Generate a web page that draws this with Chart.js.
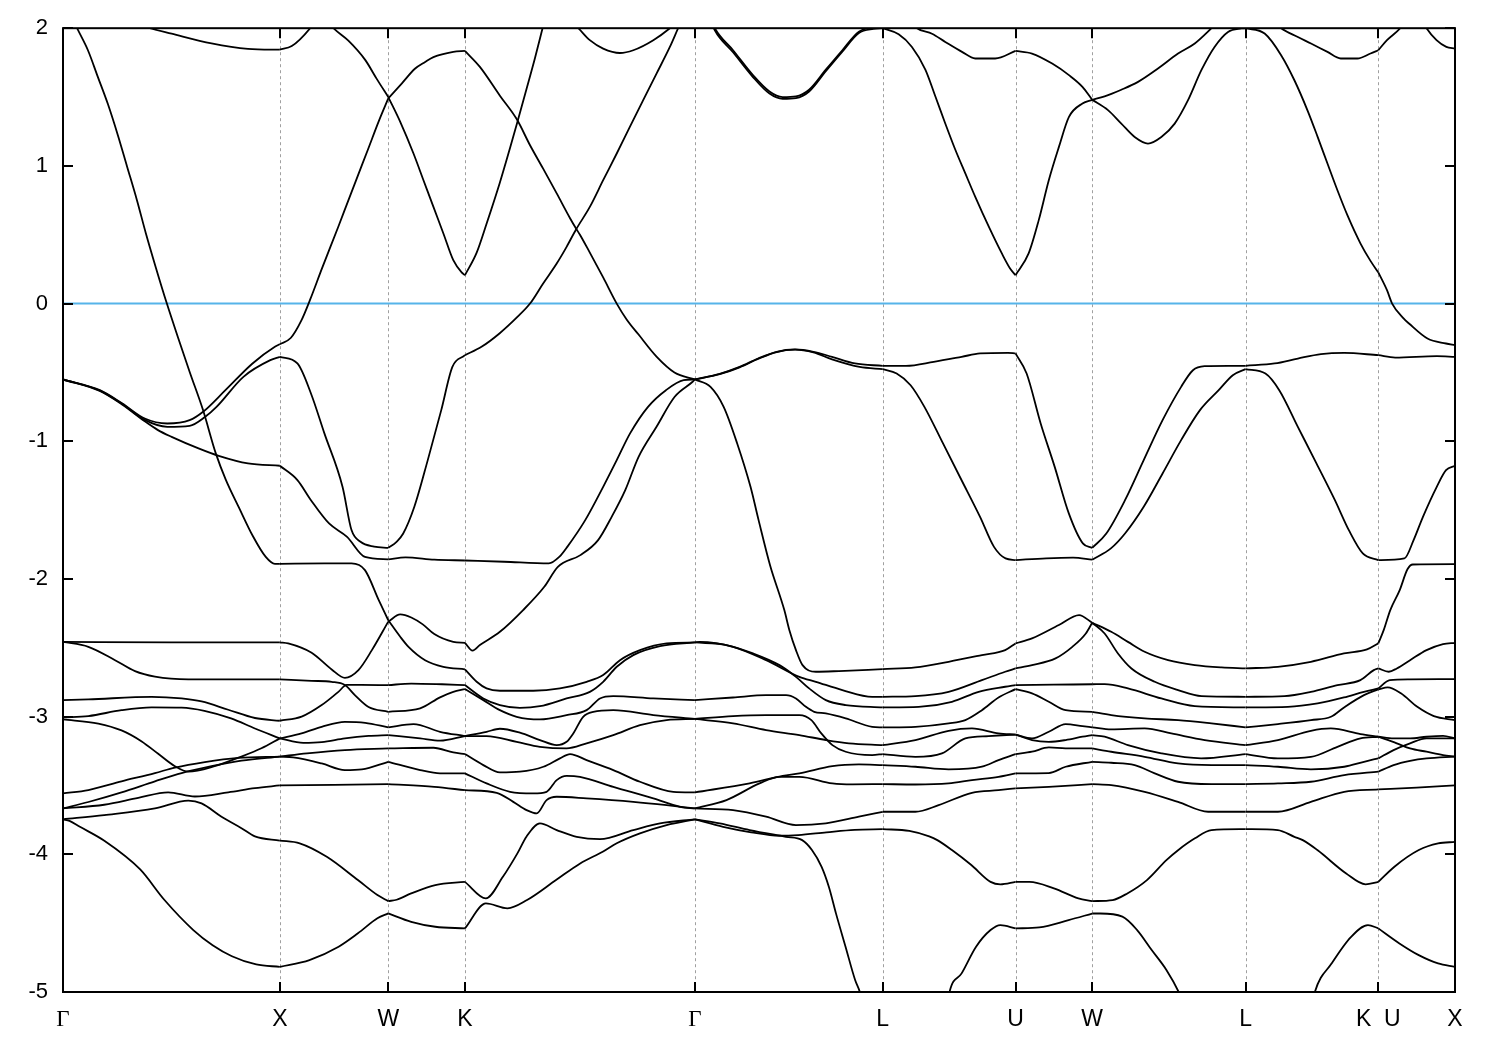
<!DOCTYPE html>
<html><head><meta charset="utf-8">
<script src="https://cdn.jsdelivr.net/npm/chart.js@4"></script>
<style>html,body{margin:0;padding:0;background:#fff;}canvas{display:block;}</style>
</head><body>
<canvas id="c" width="1500" height="1050"></canvas>
<script>
// ---- k-path (path coordinate, units of 2pi/a) and labels ----
const kLabels = ['Γ','X','W','K','Γ','L','U','W','L','K  U','X'];
const kPos = [0, 1, 1.5, 1.8536, 2.9142, 3.7802, 4.3926, 4.7462, 5.4533, 6.0657, 6.4193];
const yTicks = [-5,-4,-3,-2,-1,0,1,2];
const fermiLevel = 0;

// ---- bands per path segment: each curve is a list of [fraction along segment, energy eV] ----
const seg_G_X = [
 [[0.03,2.12],[0.065,2.0],[0.115,1.84],[0.161,1.645],[0.207,1.449],[0.253,1.223],[0.295,0.998],[0.341,0.751],[0.382,0.511],[0.429,0.257],[0.479,0.0],[0.53,-0.244],[0.585,-0.5],[0.645,-0.77],[0.705,-1.09],[0.751,-1.28],[0.811,-1.48],[0.876,-1.69],[0.935,-1.84],[0.977,-1.89],[1,-1.89]],
 [[0.35,2.03],[0.401,2.0],[0.501,1.96],[0.685,1.89],[0.853,1.85],[0.962,1.845],[1,1.845]],
 [[0,-0.551],[0.17,-0.629],[0.274,-0.726],[0.377,-0.835],[0.481,-0.871],[0.584,-0.847],[0.646,-0.786],[0.749,-0.629],[0.874,-0.435],[0.977,-0.314],[1,-0.295]],
 [[0,-0.551],[0.17,-0.632],[0.274,-0.73],[0.377,-0.845],[0.481,-0.895],[0.584,-0.888],[0.656,-0.822],[0.708,-0.75],[0.832,-0.532],[0.956,-0.411],[1,-0.387]],
 [[0,-0.551],[0.17,-0.635],[0.274,-0.735],[0.377,-0.855],[0.438,-0.919],[0.501,-0.968],[0.625,-1.052],[0.718,-1.106],[0.853,-1.161],[1,-1.178]],
 [[0,-2.457],[0.5,-2.46],[1,-2.46]],
 [[0,-2.457],[0.117,-2.493],[0.24,-2.59],[0.332,-2.67],[0.424,-2.71],[0.578,-2.73],[1,-2.73]],
 [[0,-2.88],[0.117,-2.875],[0.409,-2.856],[0.547,-2.868],[0.639,-2.89],[0.762,-2.95],[0.885,-3.01],[1,-3.03]],
 [[0,-3.006],[0.117,-2.996],[0.27,-2.953],[0.409,-2.933],[0.547,-2.935],[0.652,-2.958],[0.775,-3.013],[0.885,-3.086],[1,-3.158]],
 [[0,-3.02],[0.163,-3.05],[0.27,-3.10],[0.363,-3.18],[0.439,-3.27],[0.516,-3.36],[0.578,-3.40],[0.699,-3.36],[0.823,-3.29],[0.915,-3.23],[1,-3.158]],
 [[0,-3.557],[0.117,-3.533],[0.27,-3.47],[0.424,-3.41],[0.516,-3.37],[0.654,-3.33],[0.808,-3.30],[1,-3.29]],
 [[0,-3.667],[0.117,-3.62],[0.27,-3.55],[0.424,-3.47],[0.547,-3.41],[0.685,-3.36],[0.823,-3.32],[1,-3.29]],
 [[0,-3.667],[0.19,-3.64],[0.347,-3.59],[0.485,-3.55],[0.608,-3.58],[0.762,-3.55],[0.885,-3.52],[1,-3.50]],
 [[0,-3.746],[0.19,-3.715],[0.424,-3.667],[0.578,-3.61],[0.639,-3.63],[0.731,-3.727],[0.823,-3.81],[0.885,-3.87],[1,-3.90]],
 [[0,-3.746],[0.03,-3.757],[0.078,-3.80],[0.189,-3.90],[0.356,-4.11],[0.467,-4.33],[0.601,-4.55],[0.69,-4.66],[0.779,-4.74],[0.891,-4.80],[1,-4.817]]
];
const seg_X_W = [
 [[0,1.845],[0.11,1.87],[0.28,2.0],[0.35,2.08]],
 [[0.45,2.04],[0.494,2.0],[0.632,1.91],[0.787,1.77],[0.895,1.63],[1,1.50]],
 [[0,-0.295],[0.1,-0.25],[0.2,-0.12],[0.28,0.03],[0.386,0.25],[0.54,0.56],[0.632,0.75],[0.725,0.94],[0.818,1.13],[0.91,1.32],[1,1.49]],
 [[0,-0.387],[0.162,-0.435],[0.287,-0.653],[0.411,-0.943],[0.578,-1.33],[0.661,-1.645],[0.744,-1.73],[0.87,-1.765],[1,-1.774]],
 [[0,-1.178],[0.162,-1.282],[0.287,-1.428],[0.454,-1.597],[0.62,-1.694],[0.785,-1.84],[1,-1.858]],
 [[0,-1.89],[0.411,-1.887],[0.661,-1.887],[0.785,-1.936],[0.91,-2.15],[1,-2.30]],
 [[0,-2.46],[0.077,-2.468],[0.293,-2.536],[0.478,-2.657],[0.6,-2.718],[0.725,-2.662],[0.849,-2.517],[1,-2.31]],
 [[0,-2.73],[0.293,-2.74],[0.478,-2.747],[0.6,-2.77],[0.694,-2.845],[0.818,-2.93],[1,-2.965]],
 [[0,-3.03],[0.201,-3.0],[0.386,-2.916],[0.54,-2.82],[0.617,-2.77],[0.75,-2.77],[1,-2.771]],
 [[0,-3.158],[0.2,-3.122],[0.386,-3.074],[0.6,-3.038],[0.787,-3.045],[1,-3.078]],
 [[0,-3.158],[0.216,-3.19],[0.386,-3.185],[0.6,-3.158],[0.818,-3.14],[1,-3.134]],
 [[0,-3.29],[0.25,-3.267],[0.6,-3.243],[1,-3.231]],
 [[0,-3.29],[0.123,-3.296],[0.386,-3.34],[0.6,-3.388],[0.756,-3.383],[1,-3.328]],
 [[0,-3.50],[0.5,-3.495],[1,-3.49]],
 [[0,-3.90],[0.183,-3.92],[0.433,-4.018],[0.72,-4.187],[0.9,-4.296],[1,-4.34]],
 [[0,-4.817],[0.273,-4.768],[0.542,-4.671],[0.72,-4.574],[0.9,-4.465],[1,-4.429]]
];
const seg_W_K = [
 [[0,1.50],[0.156,1.32],[0.329,1.09],[0.459,0.896],[0.589,0.702],[0.719,0.509],[0.848,0.315],[0.957,0.226],[1,0.206]],
 [[0,1.49],[0.178,1.60],[0.351,1.707],[0.481,1.755],[0.589,1.79],[0.848,1.828],[1,1.835]],
 [[0,-1.774],[0.108,-1.73],[0.195,-1.67],[0.34,-1.476],[0.515,-1.137],[0.691,-0.774],[0.836,-0.46],[1,-0.375]],
 [[0,-1.858],[0.225,-1.844],[0.6,-1.86],[1,-1.866]],
 [[0,-2.31],[0.156,-2.258],[0.3,-2.28],[0.45,-2.33],[0.6,-2.40],[0.848,-2.457],[1,-2.464]],
 [[0,-2.30],[0.156,-2.42],[0.264,-2.493],[0.48,-2.59],[0.718,-2.638],[1,-2.657]],
 [[0,-2.771],[0.3,-2.76],[0.7,-2.765],[1,-2.771]],
 [[0,-2.965],[0.416,-2.94],[0.675,-2.86],[0.848,-2.82],[1,-2.80]],
 [[0,-3.078],[0.329,-3.054],[0.675,-3.11],[1,-3.141]],
 [[0,-3.134],[0.416,-3.158],[0.675,-3.175],[1,-3.141]],
 [[0,-3.231],[0.589,-3.226],[0.848,-3.26],[1,-3.272]],
 [[0,-3.328],[0.416,-3.388],[0.675,-3.412],[1,-3.412]],
 [[0,-3.49],[0.6,-3.51],[1,-3.534]],
 [[0,-4.34],[0.11,-4.33],[0.299,-4.284],[0.613,-4.223],[1,-4.20]],
 [[0,-4.429],[0.299,-4.49],[0.613,-4.526],[1,-4.538]]
];
const seg_K_G = [
 [[0,0.206],[0.051,0.37],[0.094,0.58],[0.152,0.88],[0.196,1.13],[0.225,1.30],[0.268,1.56],[0.304,1.78],[0.333,1.97],[0.36,2.15]],
 [[0,1.835],[0.065,1.719],[0.152,1.51],[0.225,1.34],[0.283,1.15],[0.34,0.98],[0.399,0.80],[0.457,0.62],[0.483,0.545],[0.5,0.50],[0.543,0.37],[0.601,0.19],[0.66,0.0],[0.703,-0.115],[0.755,-0.225],[0.833,-0.385],[0.911,-0.5],[1,-0.551]],
 [[0,-0.375],[0.072,-0.314],[0.15,-0.217],[0.228,-0.097],[0.283,0.0],[0.34,0.146],[0.399,0.291],[0.442,0.412],[0.483,0.538],[0.543,0.702],[0.601,0.896],[0.66,1.09],[0.717,1.283],[0.775,1.477],[0.833,1.67],[0.891,1.864],[0.927,2.0],[0.96,2.12]],
 [[0.46,2.05],[0.493,2.0],[0.543,1.913],[0.601,1.852],[0.674,1.82],[0.732,1.84],[0.819,1.913],[0.891,2.0],[0.93,2.06]],
 [[0,-1.866],[0.17,-1.875],[0.365,-1.887],[0.41,-1.84],[0.445,-1.767],[0.523,-1.573],[0.601,-1.331],[0.66,-1.137],[0.718,-0.943],[0.796,-0.75],[0.874,-0.629],[0.951,-0.556],[1,-0.551]],
 [[0,-2.464],[0.033,-2.52],[0.065,-2.48],[0.152,-2.384],[0.253,-2.226],[0.345,-2.057],[0.404,-1.912],[0.502,-1.827],[0.579,-1.718],[0.638,-1.549],[0.697,-1.355],[0.755,-1.113],[0.833,-0.895],[0.912,-0.677],[0.99,-0.568],[1,-0.551]],
 [[0,-2.657],[0.051,-2.747],[0.094,-2.795],[0.152,-2.812],[0.297,-2.812],[0.413,-2.795],[0.529,-2.747],[0.601,-2.698],[0.674,-2.59],[0.761,-2.517],[0.877,-2.468],[1,-2.461]],
 [[0,-2.771],[0.08,-2.868],[0.152,-2.916],[0.239,-2.936],[0.326,-2.924],[0.442,-2.868],[0.543,-2.82],[0.601,-2.747],[0.66,-2.638],[0.732,-2.553],[0.848,-2.488],[1,-2.461]],
 [[0,-2.80],[0.08,-2.88],[0.152,-2.953],[0.225,-3.001],[0.326,-3.02],[0.442,-2.989],[0.529,-2.953],[0.587,-2.868],[0.645,-2.851],[0.819,-2.868],[1,-2.88]],
 [[0,-3.141],[0.094,-3.11],[0.152,-3.088],[0.239,-3.117],[0.326,-3.17],[0.399,-3.207],[0.442,-3.183],[0.471,-3.122],[0.514,-3.001],[0.558,-2.965],[0.645,-2.953],[0.819,-2.989],[1,-3.017]],
 [[0,-3.141],[0.094,-3.141],[0.225,-3.183],[0.326,-3.219],[0.442,-3.231],[0.529,-3.194],[0.645,-3.134],[0.761,-3.062],[0.877,-3.025],[1,-3.017]],
 [[0,-3.272],[0.08,-3.352],[0.152,-3.405],[0.239,-3.40],[0.341,-3.364],[0.413,-3.303],[0.457,-3.272],[0.529,-3.316],[0.645,-3.388],[0.761,-3.473],[0.906,-3.546],[1,-3.55]],
 [[0,-3.412],[0.094,-3.485],[0.196,-3.546],[0.297,-3.558],[0.355,-3.546],[0.399,-3.461],[0.442,-3.43],[0.5,-3.437],[0.645,-3.51],[0.819,-3.594],[0.935,-3.655],[1,-3.667]],
 [[0,-3.534],[0.138,-3.553],[0.21,-3.619],[0.268,-3.679],[0.312,-3.703],[0.355,-3.606],[0.399,-3.582],[0.529,-3.594],[0.732,-3.619],[0.877,-3.643],[1,-3.667]],
 [[0,-4.20],[0.091,-4.32],[0.165,-4.163],[0.228,-3.993],[0.268,-3.87],[0.326,-3.775],[0.399,-3.824],[0.486,-3.873],[0.587,-3.89],[0.732,-3.824],[0.848,-3.775],[1,-3.746]],
 [[0,-4.538],[0.091,-4.356],[0.185,-4.392],[0.27,-4.332],[0.396,-4.187],[0.501,-4.066],[0.601,-3.98],[0.66,-3.92],[0.761,-3.848],[0.877,-3.788],[1,-3.746]]
];
const seg_G_L = [
 [[0,2.35],[0.106,2.0],[0.203,1.84],[0.309,1.659],[0.397,1.54],[0.467,1.50],[0.538,1.505],[0.608,1.553],[0.697,1.699],[0.785,1.84],[0.873,1.975],[0.95,2.0],[1,2.0]],
 [[0,2.35],[0.106,1.985],[0.203,1.825],[0.309,1.645],[0.397,1.525],[0.467,1.487],[0.538,1.492],[0.608,1.54],[0.697,1.688],[0.785,1.83],[0.873,1.965],[0.95,1.995],[1,2.0]],
 [[0,-0.551],[0.132,-0.51],[0.238,-0.46],[0.336,-0.399],[0.435,-0.35],[0.533,-0.333],[0.631,-0.35],[0.73,-0.387],[0.852,-0.435],[1,-0.452]],
 [[0,-0.551],[0.132,-0.513],[0.238,-0.463],[0.336,-0.402],[0.435,-0.352],[0.533,-0.335],[0.631,-0.355],[0.73,-0.405],[0.877,-0.46],[1,-0.476]],
 [[0,-0.551],[0.083,-0.605],[0.153,-0.75],[0.225,-1.016],[0.296,-1.331],[0.339,-1.573],[0.40,-1.90],[0.476,-2.226],[0.503,-2.372],[0.538,-2.517],[0.573,-2.626],[0.644,-2.674],[0.767,-2.669],[1,-2.655]],
 [[0,-2.461],[0.026,-2.457],[0.203,-2.493],[0.379,-2.59],[0.556,-2.711],[0.644,-2.747],[0.785,-2.807],[0.944,-2.856],[1,-2.856]],
 [[0,-2.461],[0.168,-2.48],[0.309,-2.541],[0.45,-2.626],[0.538,-2.711],[0.608,-2.795],[0.697,-2.88],[0.803,-2.916],[1,-2.933]],
 [[0,-2.88],[0.203,-2.861],[0.379,-2.844],[0.485,-2.844],[0.538,-2.868],[0.591,-2.929],[0.635,-2.965],[0.697,-2.977],[0.803,-3.013],[0.944,-3.074],[1,-3.078]],
 [[0,-3.017],[0.203,-2.996],[0.379,-2.989],[0.556,-2.989],[0.62,-3.025],[0.673,-3.122],[0.732,-3.207],[0.803,-3.255],[0.944,-3.279],[1,-3.272]],
 [[0,-3.017],[0.203,-3.049],[0.379,-3.098],[0.556,-3.134],[0.697,-3.17],[0.82,-3.194],[1,-3.207]],
 [[0,-3.55],[0.291,-3.485],[0.467,-3.43],[0.556,-3.412],[0.732,-3.359],[0.873,-3.347],[1,-3.352]],
 [[0,-3.667],[0.168,-3.606],[0.344,-3.485],[0.45,-3.437],[0.556,-3.437],[0.732,-3.485],[0.838,-3.492],[1,-3.49]],
 [[0,-3.667],[0.203,-3.679],[0.379,-3.727],[0.538,-3.788],[0.697,-3.775],[0.873,-3.727],[1,-3.691]],
 [[0,-3.746],[0.15,-3.80],[0.3,-3.84],[0.45,-3.865],[0.55,-3.86],[0.7,-3.84],[0.85,-3.822],[1,-3.817]],
 [[0,-3.746],[0.132,-3.775],[0.291,-3.824],[0.485,-3.873],[0.571,-3.897],[0.623,-3.969],[0.674,-4.09],[0.713,-4.236],[0.751,-4.429],[0.802,-4.671],[0.853,-4.913],[0.879,-5.005],[0.9,-5.15]]
];
const seg_L_U = [
 [[0,2.0],[0.12,1.956],[0.22,1.864],[0.321,1.70],[0.396,1.506],[0.471,1.308],[0.546,1.119],[0.622,0.945],[0.697,0.775],[0.797,0.562],[0.897,0.364],[0.959,0.255],[1,0.206]],
 [[0.15,2.12],[0.258,2.0],[0.371,1.96],[0.471,1.90],[0.597,1.828],[0.697,1.78],[0.847,1.78],[1,1.835]],
 [[0,-0.452],[0.175,-0.452],[0.384,-0.423],[0.594,-0.387],[0.733,-0.362],[0.943,-0.358],[1,-0.362]],
 [[0,-0.476],[0.105,-0.508],[0.21,-0.593],[0.314,-0.75],[0.454,-1.016],[0.594,-1.283],[0.733,-1.549],[0.838,-1.767],[0.925,-1.851],[1,-1.863]],
 [[0,-2.655],[0.246,-2.643],[0.496,-2.602],[0.747,-2.553],[0.922,-2.517],[1,-2.468]],
 [[0,-2.856],[0.246,-2.851],[0.496,-2.82],[0.747,-2.735],[0.922,-2.674],[1,-2.65]],
 [[0,-2.933],[0.271,-2.929],[0.521,-2.892],[0.722,-2.82],[0.922,-2.783],[1,-2.771]],
 [[0,-3.078],[0.246,-3.074],[0.496,-3.049],[0.622,-3.025],[0.747,-2.953],[0.872,-2.861],[1,-2.80]],
 [[0,-3.207],[0.246,-3.17],[0.496,-3.103],[0.672,-3.086],[0.872,-3.122],[1,-3.13]],
 [[0,-3.272],[0.246,-3.292],[0.446,-3.267],[0.622,-3.158],[0.797,-3.141],[1,-3.13]],
 [[0,-3.352],[0.246,-3.364],[0.496,-3.383],[0.747,-3.364],[0.872,-3.316],[1,-3.272]],
 [[0,-3.49],[0.246,-3.493],[0.496,-3.485],[0.672,-3.461],[0.872,-3.437],[1,-3.412]],
 [[0,-3.691],[0.246,-3.691],[0.421,-3.643],[0.672,-3.553],[0.872,-3.534],[1,-3.521]],
 [[0,-3.817],[0.2,-3.83],[0.35,-3.87],[0.411,-3.897],[0.521,-3.969],[0.667,-4.078],[0.812,-4.20],[0.886,-4.218],[1,-4.20]],
 [[0.48,-5.15],[0.503,-5.0],[0.594,-4.865],[0.703,-4.671],[0.812,-4.55],[0.886,-4.514],[1,-4.538]]
];
const seg_U_W = [
 [[0,1.835],[0.215,1.816],[0.478,1.743],[0.697,1.659],[0.873,1.574],[1,1.48]],
 [[0,0.206],[0.171,0.364],[0.303,0.606],[0.434,0.896],[0.566,1.138],[0.697,1.356],[0.873,1.453],[1,1.48]],
 [[0,-0.362],[0.145,-0.508],[0.328,-0.871],[0.511,-1.186],[0.695,-1.524],[0.878,-1.742],[1,-1.774]],
 [[0,-1.863],[0.4,-1.85],[0.75,-1.845],[1,-1.86]],
 [[0,-2.468],[0.215,-2.432],[0.566,-2.335],[0.829,-2.263],[1,-2.318]],
 [[0,-2.65],[0.215,-2.626],[0.522,-2.577],[0.741,-2.493],[0.917,-2.396],[1,-2.318]],
 [[0,-2.771],[0.5,-2.768],[1,-2.765]],
 [[0,-2.80],[0.215,-2.831],[0.434,-2.892],[0.654,-2.953],[1,-2.965]],
 [[0,-3.13],[0.215,-3.158],[0.434,-3.11],[0.654,-3.054],[0.873,-3.069],[1,-3.078]],
 [[0,-3.13],[0.215,-3.17],[0.434,-3.183],[0.654,-3.17],[0.873,-3.146],[1,-3.134]],
 [[0,-3.272],[0.215,-3.255],[0.434,-3.224],[0.654,-3.231],[1,-3.231]],
 [[0,-3.412],[0.434,-3.41],[0.654,-3.364],[1,-3.328]],
 [[0,-3.521],[0.434,-3.51],[1,-3.49]],
 [[0,-4.20],[0.182,-4.20],[0.501,-4.247],[0.82,-4.32],[1,-4.34]],
 [[0,-4.538],[0.31,-4.531],[0.692,-4.478],[1,-4.43]]
];
const seg_W_L = [
 [[0,1.48],[0.081,1.505],[0.19,1.553],[0.299,1.61],[0.429,1.707],[0.56,1.816],[0.669,1.889],[0.778,2.0],[0.85,2.08]],
 [[0,1.48],[0.103,1.405],[0.19,1.307],[0.277,1.21],[0.364,1.162],[0.451,1.21],[0.538,1.307],[0.625,1.477],[0.712,1.695],[0.798,1.864],[0.886,1.973],[0.974,1.998],[1,2.0]],
 [[0,-1.774],[0.092,-1.67],[0.214,-1.428],[0.336,-1.137],[0.459,-0.847],[0.58,-0.605],[0.657,-0.484],[0.733,-0.455],[0.886,-0.452],[1,-0.452]],
 [[0,-1.86],[0.122,-1.778],[0.214,-1.67],[0.336,-1.476],[0.459,-1.234],[0.58,-0.992],[0.703,-0.774],[0.825,-0.629],[0.917,-0.52],[1,-0.476]],
 [[0,-2.318],[0.124,-2.384],[0.233,-2.457],[0.342,-2.529],[0.495,-2.59],[0.669,-2.626],[0.844,-2.643],[1,-2.65]],
 [[0,-2.318],[0.081,-2.396],[0.168,-2.541],[0.256,-2.65],[0.408,-2.747],[0.56,-2.807],[0.713,-2.851],[1,-2.856]],
 [[0,-2.765],[0.081,-2.764],[0.233,-2.795],[0.451,-2.868],[0.669,-2.924],[1,-2.933]],
 [[0,-2.965],[0.124,-2.989],[0.342,-3.013],[0.56,-3.025],[0.778,-3.049],[1,-3.078]],
 [[0,-3.078],[0.124,-3.093],[0.342,-3.086],[0.516,-3.122],[0.734,-3.17],[1,-3.207]],
 [[0,-3.134],[0.081,-3.146],[0.233,-3.207],[0.451,-3.267],[0.71,-3.303],[1,-3.272]],
 [[0,-3.231],[0.124,-3.255],[0.342,-3.292],[0.56,-3.34],[0.778,-3.352],[1,-3.352]],
 [[0,-3.328],[0.124,-3.335],[0.277,-3.352],[0.408,-3.412],[0.56,-3.473],[0.778,-3.49],[1,-3.49]],
 [[0,-3.49],[0.124,-3.497],[0.342,-3.546],[0.56,-3.619],[0.756,-3.691],[1,-3.691]],
 [[0,-4.34],[0.133,-4.332],[0.229,-4.284],[0.357,-4.187],[0.484,-4.042],[0.56,-3.97],[0.67,-3.884],[0.778,-3.824],[1,-3.817]],
 [[0,-4.43],[0.053,-4.43],[0.197,-4.453],[0.293,-4.55],[0.388,-4.695],[0.484,-4.84],[0.564,-5.0],[0.6,-5.1]]
];
const seg_L_K = [
 [[0,2.0],[0.144,1.961],[0.268,1.804],[0.368,1.622],[0.468,1.40],[0.543,1.211],[0.617,1.017],[0.692,0.823],[0.767,0.642],[0.866,0.436],[0.941,0.31],[1,0.226]],
 [[0.2,2.06],[0.268,2.0],[0.394,1.936],[0.493,1.889],[0.617,1.828],[0.717,1.78],[0.842,1.78],[0.941,1.816],[1,1.84]],
 [[0,-0.452],[0.219,-0.435],[0.394,-0.399],[0.568,-0.367],[0.743,-0.358],[1,-0.375]],
 [[0,-0.476],[0.15,-0.508],[0.254,-0.629],[0.394,-0.895],[0.534,-1.161],[0.673,-1.428],[0.778,-1.646],[0.883,-1.815],[1,-1.863]],
 [[0,-2.65],[0.243,-2.638],[0.492,-2.602],[0.741,-2.541],[0.915,-2.512],[1,-2.468]],
 [[0,-2.856],[0.293,-2.851],[0.492,-2.82],[0.692,-2.771],[0.865,-2.735],[0.966,-2.662],[1,-2.65]],
 [[0,-2.933],[0.319,-2.929],[0.543,-2.904],[0.741,-2.861],[0.891,-2.82],[1,-2.795]],
 [[0,-3.078],[0.244,-3.054],[0.493,-3.025],[0.643,-3.001],[0.742,-2.933],[0.892,-2.844],[1,-2.802]],
 [[0,-3.207],[0.244,-3.17],[0.492,-3.103],[0.642,-3.086],[0.866,-3.127],[1,-3.146]],
 [[0,-3.272],[0.244,-3.303],[0.492,-3.292],[0.692,-3.219],[0.866,-3.158],[1,-3.146]],
 [[0,-3.352],[0.244,-3.364],[0.492,-3.383],[0.743,-3.364],[0.892,-3.328],[1,-3.303]],
 [[0,-3.49],[0.244,-3.485],[0.492,-3.473],[0.743,-3.425],[1,-3.40]],
 [[0,-3.691],[0.244,-3.691],[0.492,-3.619],[0.743,-3.546],[1,-3.529]],
 [[0,-3.817],[0.243,-3.824],[0.368,-3.873],[0.431,-3.897],[0.541,-3.969],[0.758,-4.139],[0.904,-4.218],[1,-4.20]],
 [[0.49,-5.15],[0.522,-5.0],[0.649,-4.792],[0.795,-4.599],[0.922,-4.514],[1,-4.538]]
];
const seg_U_X = [
 [[0,1.84],[0.113,1.913],[0.286,2.0],[0.35,2.05]],
 [[0.55,2.08],[0.629,2.0],[0.759,1.913],[0.887,1.864],[1,1.852]],
 [[0,0.226],[0.113,0.097],[0.18,0.0],[0.329,-0.108],[0.4,-0.145],[0.641,-0.254],[0.883,-0.29],[1,-0.302]],
 [[0,-0.375],[0.22,-0.392],[0.762,-0.382],[1,-0.387]],
 [[0,-1.863],[0.34,-1.851],[0.46,-1.718],[0.582,-1.549],[0.762,-1.331],[0.883,-1.21],[1,-1.178]],
 [[0,-2.468],[0.07,-2.372],[0.156,-2.226],[0.279,-2.081],[0.38,-1.93],[0.45,-1.895],[1,-1.892]],
 [[0,-2.65],[0.136,-2.674],[0.241,-2.65],[0.414,-2.59],[0.629,-2.517],[0.844,-2.473],[1,-2.464]],
 [[0,-2.795],[0.15,-2.735],[0.41,-2.73],[1,-2.727]],
 [[0,-2.802],[0.122,-2.788],[0.294,-2.831],[0.508,-2.929],[0.724,-2.996],[1,-3.025]],
 [[0,-3.146],[0.241,-3.194],[0.414,-3.231],[0.629,-3.255],[0.844,-3.279],[1,-3.29]],
 [[0,-3.146],[0.199,-3.158],[0.414,-3.158],[0.629,-3.146],[0.844,-3.14],[1,-3.158]],
 [[0,-3.303],[0.199,-3.243],[0.414,-3.194],[0.629,-3.158],[1,-3.158]],
 [[0,-3.40],[0.199,-3.352],[0.414,-3.321],[0.629,-3.303],[1,-3.29]],
 [[0,-3.529],[0.5,-3.515],[1,-3.50]],
 [[0,-4.20],[0.21,-4.09],[0.528,-3.969],[0.78,-3.921],[1,-3.91]],
 [[0,-4.538],[0.275,-4.647],[0.527,-4.732],[0.779,-4.792],[1,-4.817]]
];
const segments = [seg_G_X, seg_X_W, seg_W_K, seg_K_G, seg_G_L, seg_L_U, seg_U_W, seg_W_L, seg_L_K, seg_U_X];

// ---- build datasets ----
const datasets = [{
  data: [{x: kPos[0], y: fermiLevel}, {x: kPos[kPos.length - 1], y: fermiLevel}],
  borderColor: 'rgb(86,180,233)', borderWidth: 2, pointRadius: 0, order: 2, clip: 0
}];
segments.forEach((seg, i) => {
  const x0 = kPos[i], x1 = kPos[i + 1];
  seg.forEach(curve => {
    datasets.push({
      data: curve.map(p => ({x: x0 + p[0] * (x1 - x0), y: p[1]})),
      borderColor: '#000', borderWidth: 1.8, pointRadius: 0,
      cubicInterpolationMode: 'monotone', order: 1, clip: 0
    });
  });
});

const FONT = "'Liberation Sans', Arial, sans-serif";
const framePlugin = {
  id: 'frame',
  beforeDatasetsDraw(chart) {
    const {ctx, chartArea: a, scales: {x}} = chart;
    ctx.save();
    ctx.strokeStyle = '#a0a0a0'; ctx.lineWidth = 1; ctx.setLineDash([3, 3]);
    kPos.slice(1, -1).forEach(v => {
      const px = Math.round(x.getPixelForValue(v)) + 0.5;
      ctx.beginPath(); ctx.moveTo(px, a.top); ctx.lineTo(px, a.bottom); ctx.stroke();
    });
    ctx.restore();
  },
  afterDatasetsDraw(chart) {
    const {ctx, chartArea: a, scales: {x, y}} = chart;
    ctx.save();
    ctx.strokeStyle = '#000'; ctx.lineWidth = 2; ctx.setLineDash([]);
    ctx.strokeRect(a.left, a.top, a.right - a.left, a.bottom - a.top);
    const L = 10;
    ctx.beginPath();
    kPos.slice(1, -1).forEach(v => {
      const px = Math.round(x.getPixelForValue(v));
      ctx.moveTo(px, a.bottom); ctx.lineTo(px, a.bottom - L);
      ctx.moveTo(px, a.top); ctx.lineTo(px, a.top + L);
    });
    yTicks.forEach(v => {
      const py = Math.round(y.getPixelForValue(v));
      ctx.moveTo(a.left, py); ctx.lineTo(a.left + L, py);
      ctx.moveTo(a.right, py); ctx.lineTo(a.right - L, py);
    });
    ctx.stroke();
    ctx.restore();
  }
};

new Chart(document.getElementById('c'), {
  type: 'line',
  data: {datasets},
  plugins: [framePlugin],
  options: {
    responsive: false, animation: false, events: [],
    layout: {padding: {left: 0, right: 45, top: 28, bottom: 0}},
    plugins: {legend: {display: false}, tooltip: {enabled: false}},
    scales: {
      x: {
        type: 'linear', min: kPos[0], max: kPos[kPos.length - 1],
        afterBuildTicks: s => { s.ticks = kPos.map(v => ({value: v})); },
        afterFit: s => { s.height = 58; },
        grid: {display: false, drawTicks: false}, border: {display: false},
        ticks: {
          autoSkip: false, maxRotation: 0, minRotation: 0, padding: 14, color: '#000',
          font: ctx => ({family: kLabels[ctx.index] === 'Γ' ? "'Liberation Serif', serif" : FONT, size: 23}),
          callback: (v, i) => kLabels[i]
        }
      },
      y: {
        type: 'linear', min: yTicks[0], max: yTicks[yTicks.length - 1],
        afterBuildTicks: s => { s.ticks = yTicks.map(v => ({value: v})); },
        afterFit: s => { s.width = 63; },
        grid: {display: false, drawTicks: false}, border: {display: false},
        ticks: {padding: 15, color: '#000', font: {family: FONT, size: 22}, callback: v => String(v)}
      }
    }
  }
});
</script>
</body></html>
